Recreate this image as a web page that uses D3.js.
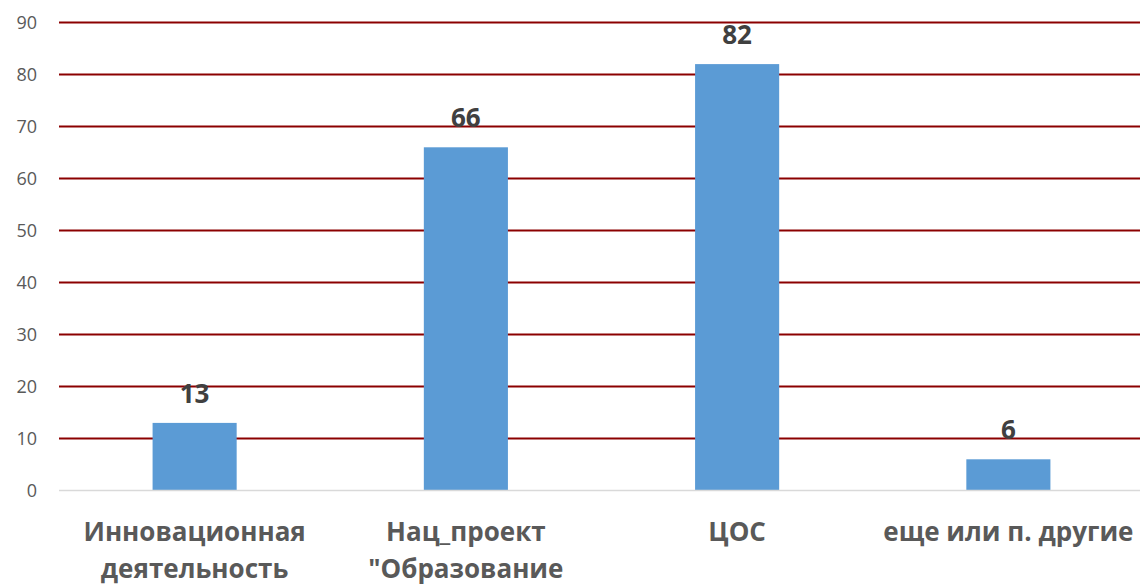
<!DOCTYPE html>
<html>
<head>
<meta charset="utf-8">
<script src="https://cdn.jsdelivr.net/npm/d3@7"></script>
<style>
  body { margin: 0; background: #fff; }
  svg text { font-family: "Open Sans", "DejaVu Sans", sans-serif; }
</style>
</head>
<body>
<script>
var categories = [
    ["Инновационная", "деятельность"],
    ["Нац_проект", "\"Образование"],
    ["ЦОС"],
    ["еще или п. другие"]
];
var values = [13, 66, 82, 6];
var yTicks = [0, 10, 20, 30, 40, 50, 60, 70, 80, 90];

var width = 1140, height = 585,
    margins = {top: 22.5, left: 59, right: -4, bottom: 94.5};

var svg = d3.select("body").append("svg")
        .attr("width", width)
        .attr("height", height);

var x = d3.scaleBand()
        .domain(d3.range(values.length))
        .range([margins.left, width - margins.right])
        .paddingInner(0.69)
        .paddingOuter(0.345);

var y = d3.scaleLinear()
        .domain([0, 90])
        .range([height - margins.bottom, margins.top]);

// gridlines
svg.append("g")
        .attr("class", "grid")
        .selectAll("line")
        .data(yTicks.filter(function (d) { return d > 0; }))
        .enter()
        .append("line")
        .attr("x1", margins.left)
        .attr("x2", width)
        .attr("y1", function (d) { return y(d); })
        .attr("y2", function (d) { return y(d); })
        .style("stroke", "#8b0000")
        .style("stroke-width", 2);

// y labels
var yAxis = d3.axisLeft(y).tickValues(yTicks).tickSize(0).tickPadding(22);
var yG = svg.append("g")
        .attr("transform", "translate(" + margins.left + ",0)")
        .call(yAxis);
yG.select(".domain").remove();
yG.selectAll("text")
        .style("font-size", "18px")
        .style("fill", "#595959");

// bars
svg.append("g")
        .selectAll("rect")
        .data(values)
        .enter()
        .append("rect")
        .attr("x", function (d, i) { return x(i); })
        .attr("y", function (d) { return y(d); })
        .attr("width", x.bandwidth())
        .attr("height", function (d) { return y(0) - y(d); })
        .style("fill", "#5b9bd5");

// zero line
svg.append("line")
        .attr("x1", margins.left)
        .attr("x2", width)
        .attr("y1", y(0))
        .attr("y2", y(0))
        .style("stroke", "#d9d9d9")
        .style("stroke-width", 1.5);

// value labels
svg.append("g")
        .selectAll("text")
        .data(values)
        .enter()
        .append("text")
        .attr("x", function (d, i) { return x(i) + x.bandwidth() / 2; })
        .attr("y", function (d) { return y(d) - 20; })
        .attr("text-anchor", "middle")
        .style("font-size", "26px")
        .style("font-weight", "bold")
        .style("fill", "#404040")
        .text(function (d) { return d; });

// category labels
var catG = svg.append("g")
        .selectAll("text")
        .data(categories)
        .enter()
        .append("text")
        .attr("x", function (d, i) { return x(i) + x.bandwidth() / 2; })
        .attr("y", 541)
        .attr("text-anchor", "middle")
        .style("font-size", "26px")
        .style("font-weight", "bold")
        .style("fill", "#595959");

catG.selectAll("tspan")
        .data(function (d) { return d; })
        .enter()
        .append("tspan")
        .attr("x", function () { return d3.select(this.parentNode).attr("x"); })
        .attr("dy", function (d, i) { return i === 0 ? 0 : 37; })
        .text(function (d) { return d; });
</script>
</body>
</html>
